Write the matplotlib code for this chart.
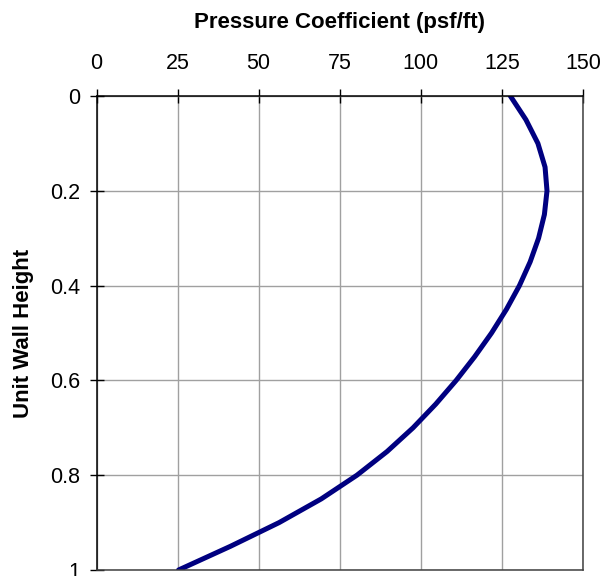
import matplotlib
matplotlib.use("Agg")
import matplotlib.pyplot as plt

plt.rcParams['font.family'] = ['Liberation Sans', 'DejaVu Sans']

# Data (unit wall height vs pressure coefficient)
wall_height = [0.00, 0.05, 0.10, 0.15, 0.20, 0.25, 0.30, 0.35, 0.40, 0.45, 0.50,
               0.55, 0.60, 0.65, 0.70, 0.75, 0.80, 0.85, 0.90, 0.95, 1.00]
pressure_coeff = [127.6, 132.4, 136.1, 138.3, 138.9, 138.1, 136.3, 133.7, 130.4, 126.4, 121.8,
                  116.6, 110.9, 104.6, 97.6, 89.6, 80.3, 69.3, 56.3, 41.3, 25.3]
x_ticks = [0, 25, 50, 75, 100, 125, 150]
y_ticks = [0, 0.2, 0.4, 0.6, 0.8, 1]
y_tick_labels = ['0', '0.2', '0.4', '0.6', '0.8', '1']

fig = plt.figure(figsize=(6.02, 5.76), dpi=100)
ax = fig.add_axes([96.5/602, 1-570/576, (583-96.5)/602, (570-96)/576])

ax.plot(pressure_coeff, wall_height, color='#000080', lw=3.6,
        solid_capstyle='round', solid_joinstyle='round')

ax.set_xlim(0, 150)
ax.set_ylim(1, 0)
ax.set_xticks(x_ticks)
ax.set_xticklabels([str(t) for t in x_ticks])
ax.set_yticks(y_ticks)
ax.set_yticklabels(y_tick_labels)
ax.xaxis.tick_top()
ax.xaxis.set_label_position('top')

ax.grid(True, color='#a0a0a0', lw=1.0)
ax.set_axisbelow(True)

ax.tick_params(axis='both', direction='inout', length=10, width=1, color='black',
               labelsize=15.5, pad=7)
ax.tick_params(axis='x', top=True, bottom=False, pad=11)

for s in ['top', 'left']:
    ax.spines[s].set_color('black')
    ax.spines[s].set_linewidth(1.1)
for s in ['right', 'bottom']:
    ax.spines[s].set_color('#404040')
    ax.spines[s].set_linewidth(1.1)

ax.set_xlabel('Pressure Coefficient (psf/ft)', fontsize=16, fontweight='bold', labelpad=18)
ax.set_ylabel('Unit Wall Height', fontsize=16, fontweight='bold', labelpad=11)

fig.savefig('out.png', dpi=100)
